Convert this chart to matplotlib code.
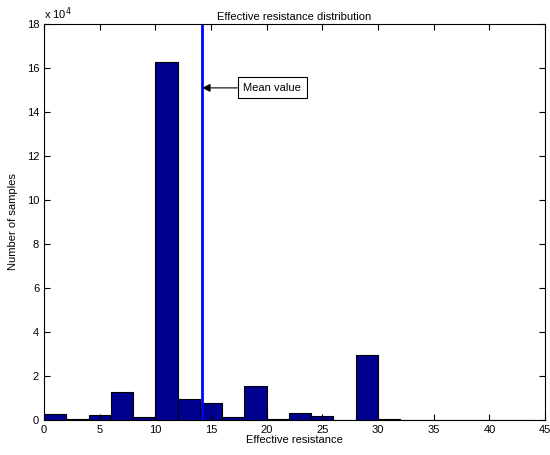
import matplotlib
matplotlib.use("Agg")
import matplotlib.pyplot as plt

plt.rcParams['font.family'] = ['Liberation Sans', 'DejaVu Sans']

# histogram bins (left edges, width 2) and counts in units of 1e4
bin_edges = [0, 2, 4, 6, 8, 10, 12, 14, 16, 18, 20, 22, 24, 26, 28, 30, 32, 34, 36, 38, 40, 42]
counts = [0.27, 0.03, 0.21, 1.29, 0.12, 16.3, 0.94, 0.79, 0.12, 1.55, 0.06, 0.32, 0.17, 0.0,
          2.95, 0.03, 0.01, 0.01, 0.01, 0.01, 0.01, 0.01]
bin_width = 2
mean_value = 14.2

fig = plt.figure(figsize=(5.5, 4.55), dpi=100)
ax = fig.add_axes([0.08, 0.077, 0.911, 0.87])

ax.bar(bin_edges, counts, width=bin_width, align='edge',
       color='#00008F', edgecolor='black', linewidth=0.8)
ax.axvline(mean_value, color='#0000FF', linewidth=2)

ax.annotate('Mean value', xy=(mean_value, 15.1), xytext=(17.9, 15.1),
            fontsize=8, va='center', ha='left',
            bbox=dict(boxstyle='square,pad=0.5', fc='white', ec='black', lw=0.8),
            arrowprops=dict(arrowstyle='-|>', color='black', lw=0.8,
                            mutation_scale=12, shrinkA=0, shrinkB=0))

ax.set_xlim(0, 45)
ax.set_ylim(0, 18)
ax.set_xticks(range(0, 46, 5))
ax.set_yticks(range(0, 19, 2))
ax.tick_params(direction='in', top=True, right=True, labelsize=8, length=4)
ax.text(0, 1.005, r'x 10$^4$', transform=ax.transAxes, fontsize=8, va='bottom', ha='left')

ax.set_title('Effective resistance distribution', fontsize=8, pad=3)
ax.set_xlabel('Effective resistance', fontsize=8, labelpad=0)
ax.set_ylabel('Number of samples', fontsize=8, labelpad=6)

fig.savefig('out.png', dpi=100)
